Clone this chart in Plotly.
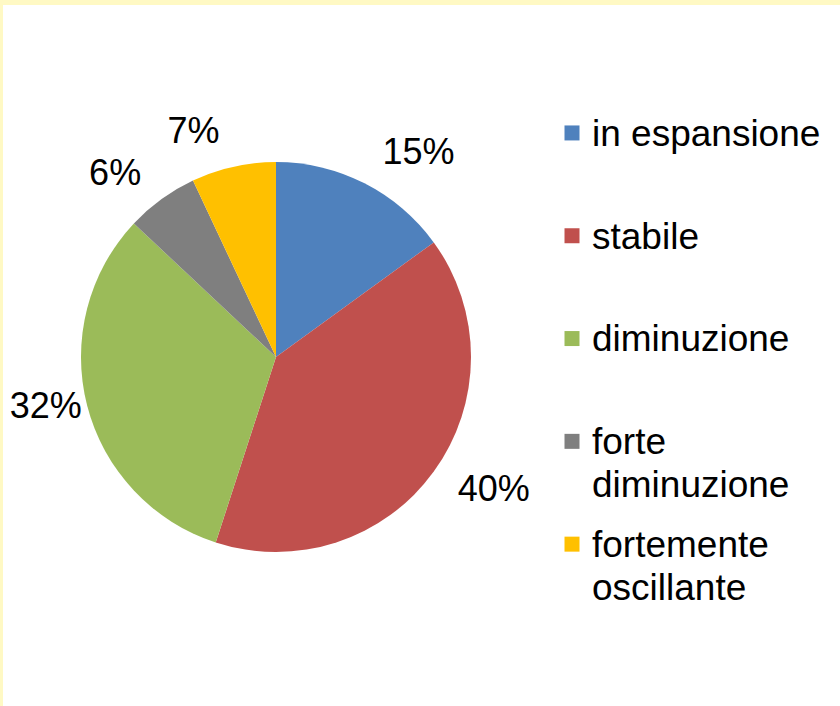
import plotly.graph_objects as go

labels = ["in espansione", "stabile", "diminuzione", "forte diminuzione", "fortemente oscillante"]
legend_lines = [["in espansione", "\u00a0"], ["stabile", "\u00a0"], ["diminuzione", "\u00a0"],
                ["forte", "diminuzione"], ["fortemente", "oscillante"]]
values = [15, 40, 32, 6, 7]
colors = ["#4F81BD", "#C0504D", "#9BBB59", "#7F7F7F", "#FFC000"]

W, H = 840, 706
FONT = "Liberation Sans, Arial, sans-serif"
CX, CY, R, RL = 276, 357, 195, 212  # pie centre / radius, label ring outer radius (px)
label_pull = [0.116, 0.116, 0.0, 0.116, 0.116]  # how far each % label sits from the rim


def dom(r):
    return dict(x=[(CX - r) / W, (CX + r) / W], y=[1 - (CY + r) / H, 1 - (CY - r) / H])


fig = go.Figure()
# transparent ring that only carries the percentage labels (slightly outside the pie)
fig.add_trace(go.Pie(
    labels=labels, values=values, sort=False, direction="clockwise", rotation=0,
    marker=dict(colors=["rgba(0,0,0,0)"] * len(values), line=dict(width=0)),
    pull=label_pull,
    texttemplate="%{percent:.0%}",
    textposition="outside",
    outsidetextfont=dict(family=FONT, size=36, color="#000000"),
    domain=dom(RL), hoverinfo="skip", showlegend=False,
))
# visible pie
fig.add_trace(go.Pie(
    labels=labels, values=values, sort=False, direction="clockwise", rotation=0,
    marker=dict(colors=colors, line=dict(width=0)),
    textinfo="none",
    domain=dom(R), hoverinfo="label+percent", showlegend=False,
))

# legend entries (one per slice, same colours)
for i, (lines, col) in enumerate(zip(legend_lines, colors)):
    name = "<br>".join(f"<span style='font-size:37px'>{t}</span>" for t in lines)
    fig.add_trace(go.Scatter(
        x=[None], y=[None], mode="markers", name=name,
        marker=dict(symbol="square", size=15, color=col),
        legendgroup=f"g{i}", showlegend=True, hoverinfo="skip",
    ))

fig.update_layout(
    width=W, height=H,
    margin=dict(l=0, r=0, t=0, b=0, autoexpand=False),
    paper_bgcolor="#FFFFFF",
    plot_bgcolor="#FFFFFF",
    xaxis=dict(visible=False),
    yaxis=dict(visible=False),
    showlegend=True,
    legend=dict(
        x=552 / W, y=1 - 105 / H, xanchor="left", yanchor="top",
        font=dict(family=FONT, size=33, color="#000000"),
        valign="top",
        itemwidth=30,
        tracegroupgap=14,
        bgcolor="rgba(0,0,0,0)",
        borderwidth=0,
    ),
    shapes=[
        dict(type="rect", xref="paper", yref="paper", x0=0, x1=1, y0=1 - 5 / H, y1=1,
             fillcolor="#FFF9C4", line=dict(width=0), layer="above"),
        dict(type="rect", xref="paper", yref="paper", x0=0, x1=3 / W, y0=0, y1=1,
             fillcolor="#FFF9C4", line=dict(width=0), layer="above"),
    ],
)

fig.write_html("out.html", config={"displayModeBar": False},
               post_script="document.body.style.margin='0px';")
